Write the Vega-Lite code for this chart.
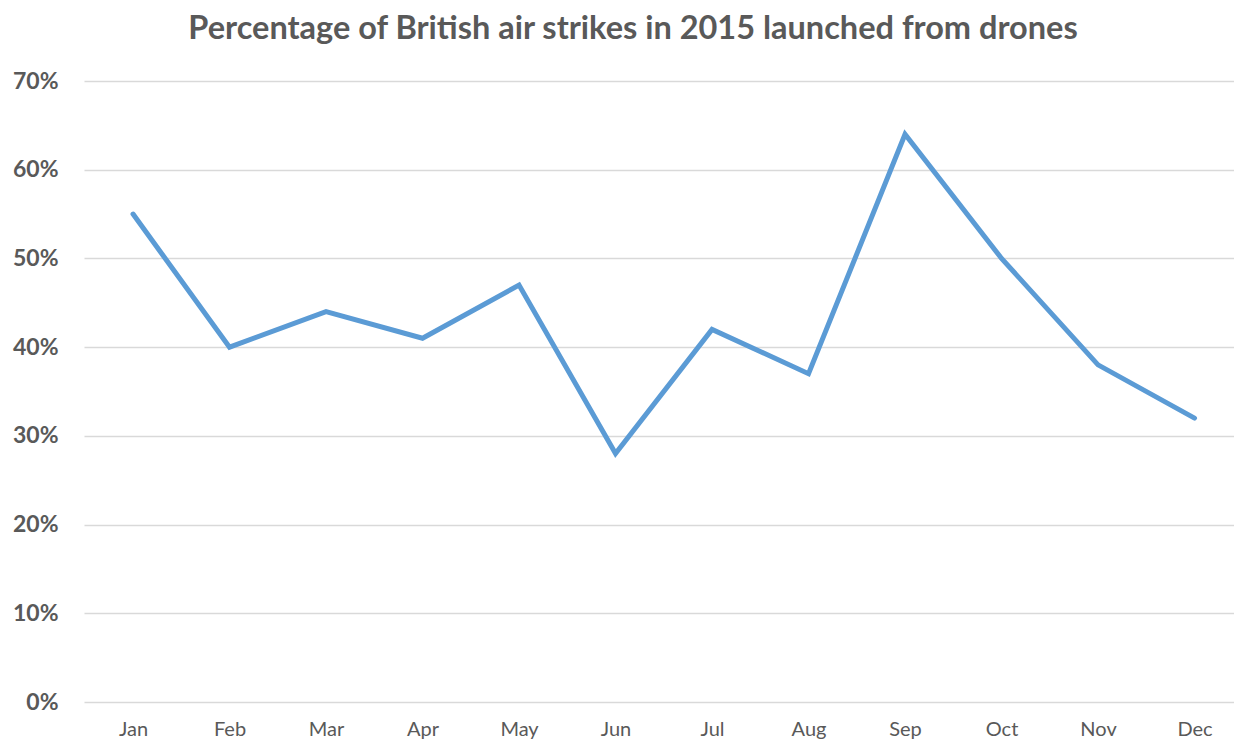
{
  "$schema": "https://vega.github.io/schema/vega-lite/v6.json",
  "autosize": "none",
  "width": 1150,
  "height": 621,
  "padding": {"left": 84, "top": 81, "right": 0, "bottom": 38},
  "background": "white",
  "title": {
    "text": "Percentage of British air strikes in 2015 launched from drones",
    "font": "Lato",
    "fontSize": 32.5,
    "fontWeight": "bold",
    "color": "#595959",
    "anchor": "middle",
    "dx": -26,
    "offset": 25
  },
  "data": {
    "values": [
      {"month": "Jan", "pct": 0.55},
      {"month": "Feb", "pct": 0.40},
      {"month": "Mar", "pct": 0.44},
      {"month": "Apr", "pct": 0.41},
      {"month": "May", "pct": 0.47},
      {"month": "Jun", "pct": 0.28},
      {"month": "Jul", "pct": 0.42},
      {"month": "Aug", "pct": 0.37},
      {"month": "Sep", "pct": 0.64},
      {"month": "Oct", "pct": 0.50},
      {"month": "Nov", "pct": 0.38},
      {"month": "Dec", "pct": 0.32}
    ]
  },
  "mark": {"type": "line", "color": "#5B9BD5", "strokeWidth": 5, "strokeCap": "round", "strokeJoin": "miter"},
  "encoding": {
    "x": {
      "field": "month",
      "type": "ordinal",
      "sort": null,
      "scale": {"type": "point", "padding": 0.4585, "align": 0.554},
      "axis": {
        "title": null,
        "domain": false,
        "ticks": false,
        "grid": false,
        "labelAngle": 0,
        "labelFont": "Lato",
        "labelFontSize": 20,
        "labelColor": "#595959",
        "labelPadding": 17
      }
    },
    "y": {
      "field": "pct",
      "type": "quantitative",
      "scale": {"domain": [0, 0.7]},
      "axis": {
        "title": null,
        "format": ".0%",
        "values": [0, 0.1, 0.2, 0.3, 0.4, 0.5, 0.6, 0.7],
        "domain": false,
        "ticks": false,
        "grid": true,
        "gridColor": "#D9D9D9",
        "gridWidth": 1.5,
        "labelFont": "Lato",
        "labelFontSize": 23,
        "labelFontWeight": "bold",
        "labelColor": "#595959",
        "labelPadding": 26
      }
    }
  },
  "config": {"view": {"stroke": null}}
}
